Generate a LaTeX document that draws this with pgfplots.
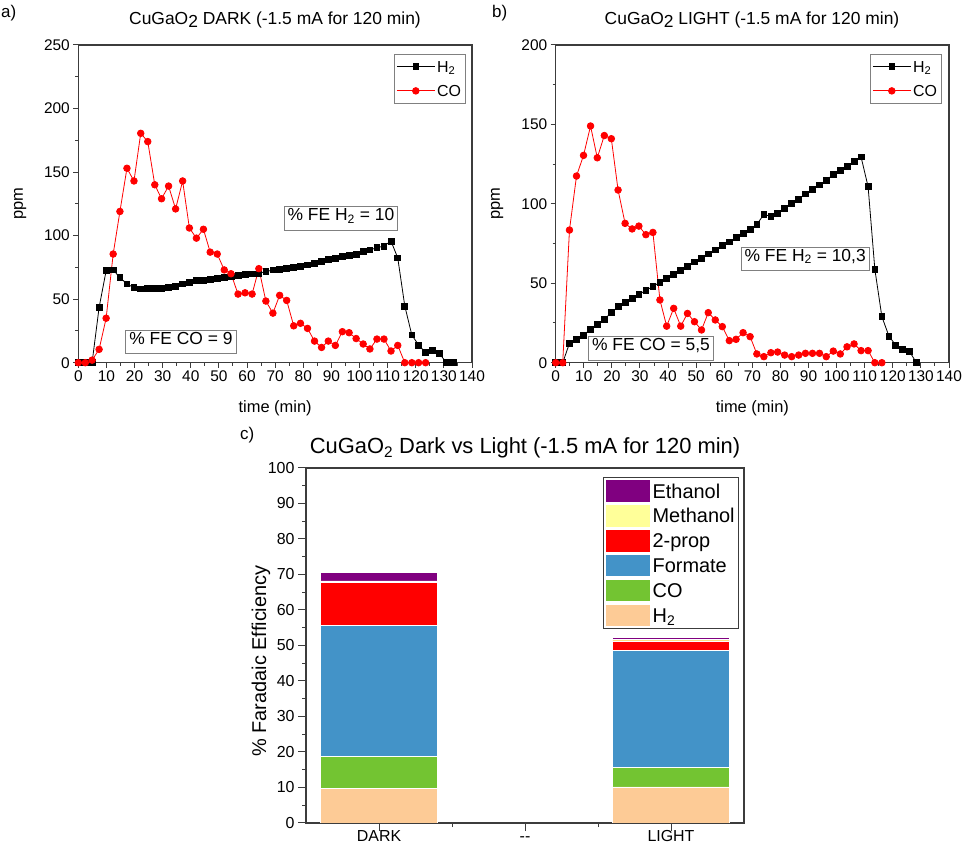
\documentclass[border=0pt]{standalone}
\usepackage{fontspec}
\setmainfont{Liberation Sans}
\usepackage{pgfplots}
\pgfplotsset{compat=1.18}

\definecolor{cEth}{HTML}{800080}
\definecolor{cMeth}{HTML}{FFFF99}
\definecolor{cProp}{HTML}{FF0000}
\definecolor{cForm}{HTML}{4393C8}
\definecolor{cCO}{HTML}{73C432}
\definecolor{cH}{HTML}{FDCB96}
\definecolor{frame}{HTML}{3C3C3C}

\newcommand{\fs}[1]{\fontsize{#1}{#1}\selectfont}

\tikzset{
  fe/.style={draw=gray, line width=0.8bp, fill=white, font=\fs{17.5},
    inner xsep=3.5bp, inner ysep=7bp, text height=0.72em, text depth=0.25em},
}

\pgfplotsset{
  panel/.style={
    scale only axis, anchor=south west, clip=false,
    axis line style={frame, line width=1.2bp},
    tick style={frame, line width=1bp},
    tick align=outside, xtick pos=left, ytick pos=left,
    major tick length=5bp, minor tick length=3bp,
    /pgf/number format/assume math mode=true,
    ticklabel style={font=\fs{15.5}},
    label style={font=\fs{16.5}},
    minor x tick num=1, minor y tick num=1,
    xmin=0, xmax=140, xtick={0,10,...,140},
    xlabel={time (min)},
    xlabel style={at={(axis description cs:0.5,-0.142)}, anchor=center},
    ylabel={ppm},
    ylabel style={at={(axis description cs:-0.148,0.5)}, anchor=center},
    legend style={at={(1,1)}, anchor=north east, xshift=-6bp, yshift=-9bp,
      draw=gray, line width=0.8bp, font=\fs{16},
      cells={anchor=base west, inner sep=0pt},
      inner xsep=2.5bp, inner ysep=0bp, row sep=0pt,
      /tikz/every even column/.append style={column sep=3bp}},
    legend image code/.code={\path (0bp,-6bp) (0bp,17.5bp);
      \draw[mark repeat=2,mark phase=2,#1]
      plot coordinates {(0bp,5.7bp) (19bp,5.7bp) (38bp,5.7bp)};},
  },
  hline/.style={black, line width=0.8bp, mark=square*, mark size=2.9bp,
    mark options={solid, fill=black}},
  coline/.style={red, line width=0.8bp, mark=*, mark size=3.3bp,
    mark options={solid, fill=red}},
  cbar/.style={fill=#1, draw=white, line width=0.4bp,
    legend image code/.code={\path (0bp,-5.05bp) (0bp,19.45bp);
      \fill[fill=#1, draw=white, line width=0.6bp] (0bp,-4.05bp) rectangle (45bp,18.45bp);}},
}

\begin{document}
\begin{tikzpicture}
\useasboundingbox (0,0) rectangle (965bp,851bp);

% a) dark
\begin{axis}[panel, at={(78.3bp,488.3bp)}, width=393.7bp, height=317.7bp,
  ymin=0, ymax=250, ytick={0,50,...,250}]
\addplot[hline] coordinates {
(0,0)(2.5,0)(4.9,0)(7.4,43.5)(9.9,72.4)(12.4,73)(14.8,67)(17.3,62)(19.8,59)(22.2,58)
(24.7,58.2)(27.2,58.2)(29.6,58.5)(32.1,59.3)(34.6,60.3)(37.1,62)(39.5,63.2)(42.0,64.5)
(44.5,64.5)(46.9,65.6)(49.4,66.4)(51.9,67.2)(54.3,68)(56.8,68.7)(59.3,69.3)(61.8,69.8)
(64.2,70.5)(66.7,71.6)(69.2,73)(71.6,73.7)(74.1,74.2)(76.6,75)(79.0,75.5)(81.5,76.9)
(84.0,78.2)(86.5,80)(88.9,81.3)(91.4,82.1)(93.9,83.4)(96.3,84.7)(98.8,85.5)(101.3,87.4)
(103.7,88.7)(106.2,90.5)(108.7,91.8)(111.2,95.7)(113.6,82.4)(116.1,44.6)(118.6,21.8)
(121.0,13.9)(123.5,7.9)(126.0,9.4)(128.4,7.3)(130.9,0)(133.4,0)};
\addlegendentry{H\textsubscript{2}}
\addplot[coline] coordinates {
(0,0)(2.5,0)(4.9,2)(7.4,10.5)(9.9,35)(12.4,85.5)(14.8,119)(17.3,153)(19.8,143)(22.2,180.5)
(24.7,174)(27.2,140)(29.6,129)(32.1,139)(34.6,121)(37.1,143)(39.5,106)(42.0,98)(44.5,105)
(46.9,87)(49.4,85.5)(51.9,73)(54.3,70)(56.8,54)(59.3,55)(61.8,54)(64.2,74)(66.7,48.5)
(69.2,39)(71.6,53)(74.1,49)(76.6,29)(79.0,31)(81.5,27)(84.0,17)(86.5,12)(88.9,17)
(91.4,13.6)(93.9,24.4)(96.3,23.6)(98.8,19)(101.3,14.7)(103.7,10.8)(106.2,18.6)(108.7,18.6)
(111.2,9.2)(113.6,13.6)(116.1,0)(118.6,0)(121.0,0)(123.5,0)};
\addlegendentry{CO}
\node[fe] at (axis cs:93.4,113.8) {\% FE H\textsubscript{2} = 10};
\node[fe] at (axis cs:36.5,16.3) {\% FE CO = 9};
\end{axis}

% b) light
\begin{axis}[panel, at={(555.7bp,488.3bp)}, width=393.3bp, height=317.7bp,
  ymin=0, ymax=200, ytick={0,50,...,200},
  ylabel style={at={(axis description cs:-0.149,0.5)}},
  legend style={xshift=-1bp}]
\addplot[hline] coordinates {
(0,0)(2.5,0)(4.9,12.2)(7.4,14.7)(9.9,17.4)(12.4,21)(14.8,24.1)(17.3,27.3)(19.8,31.5)
(22.2,35.3)(24.7,37.8)(27.2,40.5)(29.6,43)(32.1,45.5)(34.6,48)(37.1,50.6)(39.5,53.2)
(42.0,55.7)(44.5,58.3)(46.9,60.8)(49.4,63.4)(51.9,65.9)(54.3,68.5)(56.8,71)(59.3,73.6)
(61.8,76.1)(64.2,78.7)(66.7,81.2)(69.2,84)(71.6,87)(74.1,93.4)(76.6,92)(79.0,94)
(81.5,97.2)(84.0,100.3)(86.5,103)(88.9,106.2)(91.4,109)(93.9,111.9)(96.3,114.6)
(98.8,118.6)(101.3,120.9)(103.7,123.4)(106.2,126.5)(108.7,129.5)(111.2,110.8)
(113.6,58.8)(116.1,29)(118.6,16.8)(121.0,11.1)(123.5,8.4)(126.0,6.9)(128.4,0)};
\addlegendentry{H\textsubscript{2}}
\addplot[coline] coordinates {
(0,0)(2.5,0)(4.9,83.5)(7.4,117.5)(9.9,130.5)(12.4,149)(14.8,129)(17.3,143)(19.8,141)
(22.2,108.7)(24.7,87.7)(27.2,84.2)(29.6,86)(32.1,80.6)(34.6,82)(37.1,39.5)(39.5,23)
(42.0,34.2)(44.5,23)(46.9,31)(49.4,25.8)(51.9,20.6)(54.3,31.5)(56.8,26.9)(59.3,22.7)
(61.8,13.9)(64.2,14.7)(66.7,18.9)(69.2,16.4)(71.6,5.5)(74.1,3.8)(76.6,6.3)(79.0,6.7)
(81.5,4.8)(84.0,3.8)(86.5,4.8)(88.9,5.9)(91.4,5.9)(93.9,5.9)(96.3,3.8)(98.8,7.3)
(101.3,5.5)(103.7,10)(106.2,11.8)(108.7,7.6)(111.2,7.6)(113.6,0)(116.1,0)};
\addlegendentry{CO}
\node[fe] at (axis cs:88.8,65.3) {\% FE H\textsubscript{2} = 10,3};
\node[fe] at (axis cs:33.9,9.2) {\% FE CO = 5,5};
\end{axis}

% c) stacked bars
\begin{axis}[scale only axis, anchor=south west, at={(306bp,28bp)},
  width=438bp, height=355bp,
  ybar stacked, bar width=0.8,
  xmin=0.5, xmax=3.5, ymin=0, ymax=100,
  xtick={1,2,3}, xticklabels={DARK,{-}{-},LIGHT}, minor xtick={1.5,2.5},
  ytick={0,10,...,100}, minor y tick num=1,
  axis line style={frame, line width=1.2bp},
  tick style={frame, line width=1bp},
  tick align=outside, xtick pos=left, ytick pos=left,
  major tick length=8bp, minor tick length=4bp,
  /pgf/number format/assume math mode=true,
  ticklabel style={font=\fs{16}},
  xticklabel style={text height=0.72em},
  ylabel={\% Faradaic Efficiency},
  ylabel style={font=\fs{20}, at={(axis description cs:-0.103,0.456)}, anchor=center},
  reverse legend,
  legend style={at={(1,1)}, anchor=north east, xshift=-5bp, yshift=-9bp,
    draw=frame, line width=0.8bp, font=\fs{20},
    cells={anchor=base west, inner sep=0pt},
    inner xsep=2bp, inner ysep=1bp, row sep=0pt,
    /tikz/every even column/.append style={column sep=6bp}},
]
\addplot[cbar=cH] coordinates {(1,9.8) (3,10.2)};
\addlegendentry{H\textsubscript{2}}
\addplot[cbar=cCO] coordinates {(1,9.0) (3,5.5)};
\addlegendentry{CO}
\addplot[cbar=cForm] coordinates {(1,36.8) (3,32.9)};
\addlegendentry{Formate}
\addplot[cbar=cProp] coordinates {(1,12.2) (3,2.7)};
\addlegendentry{2-prop}
\addplot[cbar=cMeth] coordinates {(1,0.4) (3,0.4)};
\addlegendentry{Methanol}
\addplot[cbar=cEth] coordinates {(1,2.5) (3,0.6)};
\addlegendentry{Ethanol}
\end{axis}

% titles and panel letters
\node[font=\fs{17.5}] at (275bp,831bp) {CuGaO\raisebox{-0.3ex}{2} DARK (-1.5 mA for 120 min)};
\node[font=\fs{17.5}] at (752bp,831bp) {CuGaO\raisebox{-0.3ex}{2} LIGHT (-1.5 mA for 120 min)};
\node[font=\fs{22}] at (525bp,403bp) {CuGaO\textsubscript{2} Dark vs Light (-1.5 mA for 120 min)};
\node[font=\fs{17}, anchor=north west, inner sep=0pt] at (1bp,846bp) {a)};
\node[font=\fs{17}, anchor=north west, inner sep=0pt] at (492bp,846bp) {b)};
\node[font=\fs{17}, anchor=north west, inner sep=0pt] at (240bp,424bp) {c)};
\end{tikzpicture}
\end{document}
